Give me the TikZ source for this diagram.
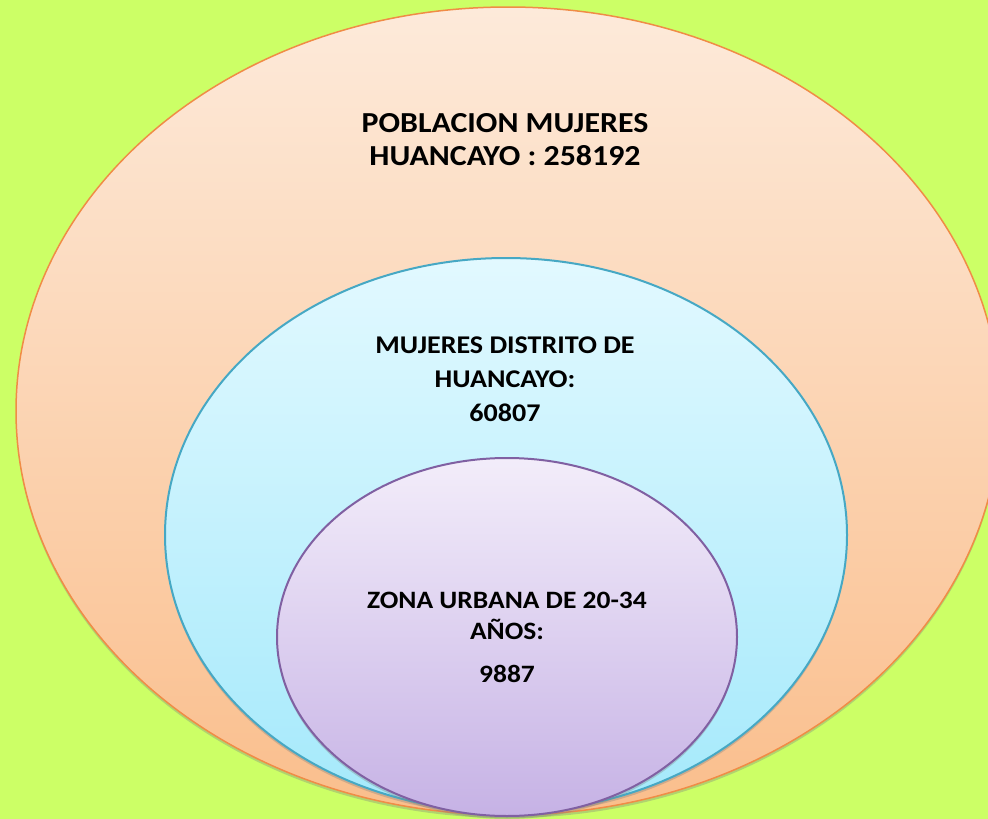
\documentclass[tikz,border=0pt]{standalone}
\usepackage{fontspec}
\setmainfont{Carlito}
\newfontfamily\letrero[FakeStretch=1.1]{Carlito}
\usepackage{tikz}
\usetikzlibrary{shapes.geometric,shadows}

\definecolor{fondo}{RGB}{204,255,102}
\definecolor{naranjaA}{RGB}{253,234,218}
\definecolor{naranjaB}{RGB}{250,190,140}
\definecolor{naranjaL}{RGB}{240,140,70}
\definecolor{celesteA}{RGB}{226,249,255}
\definecolor{celesteB}{RGB}{164,233,251}
\definecolor{celesteL}{RGB}{70,168,196}
\definecolor{lilaA}{RGB}{243,237,250}
\definecolor{lilaB}{RGB}{198,178,229}
\definecolor{lilaL}{RGB}{128,96,162}

\tikzset{
  conjunto/.style={ellipse, inner sep=0pt, outer sep=0pt,
    drop shadow={shadow xshift=0pt, shadow yshift=-3pt, opacity=0.35}},
  rotulo/.style={align=center, inner sep=0pt, anchor=base}
}

\begin{document}
\begin{tikzpicture}[x=1pt,y=-1pt]

\useasboundingbox (0,0) rectangle (988,819);
\clip (0,0) rectangle (988,819);
\fill [fondo] (0,0) rectangle (988,819);

\coordinate (prov) at (508,411);
\coordinate (dist) at (506,535);
\coordinate (zona) at (507,637);

\node [conjunto, minimum width=984pt, minimum height=808pt, draw=naranjaL, line width=1.5pt,
       top color=naranjaA, bottom color=naranjaB] (provincia) at (prov) {};
\node [conjunto, minimum width=682pt, minimum height=554pt, draw=celesteL, line width=2pt,
       top color=celesteA, bottom color=celesteB] (distrito) at (dist) {};
\node [conjunto, minimum width=460pt, minimum height=358pt, draw=lilaL, line width=2pt,
       top color=lilaA, bottom color=lilaB] (urbana) at (zona) {};

% the base anchor sits on the last line
\node [rotulo, font=\fontsize{29}{33}\letrero\bfseries] (t1) at (505,165)
  {POBLACION MUJERES\\HUANCAYO : 258192};
\node [rotulo, font=\fontsize{25.5}{34}\letrero\bfseries] (t2) at (505,421)
  {MUJERES DISTRITO DE\\HUANCAYO:\\60807};
\node [rotulo, font=\fontsize{25}{31}\letrero\bfseries] (t3) at (507,682)
  {ZONA URBANA DE 20-34\\AÑOS:\\[12pt]9887};

\end{tikzpicture}
\end{document}
